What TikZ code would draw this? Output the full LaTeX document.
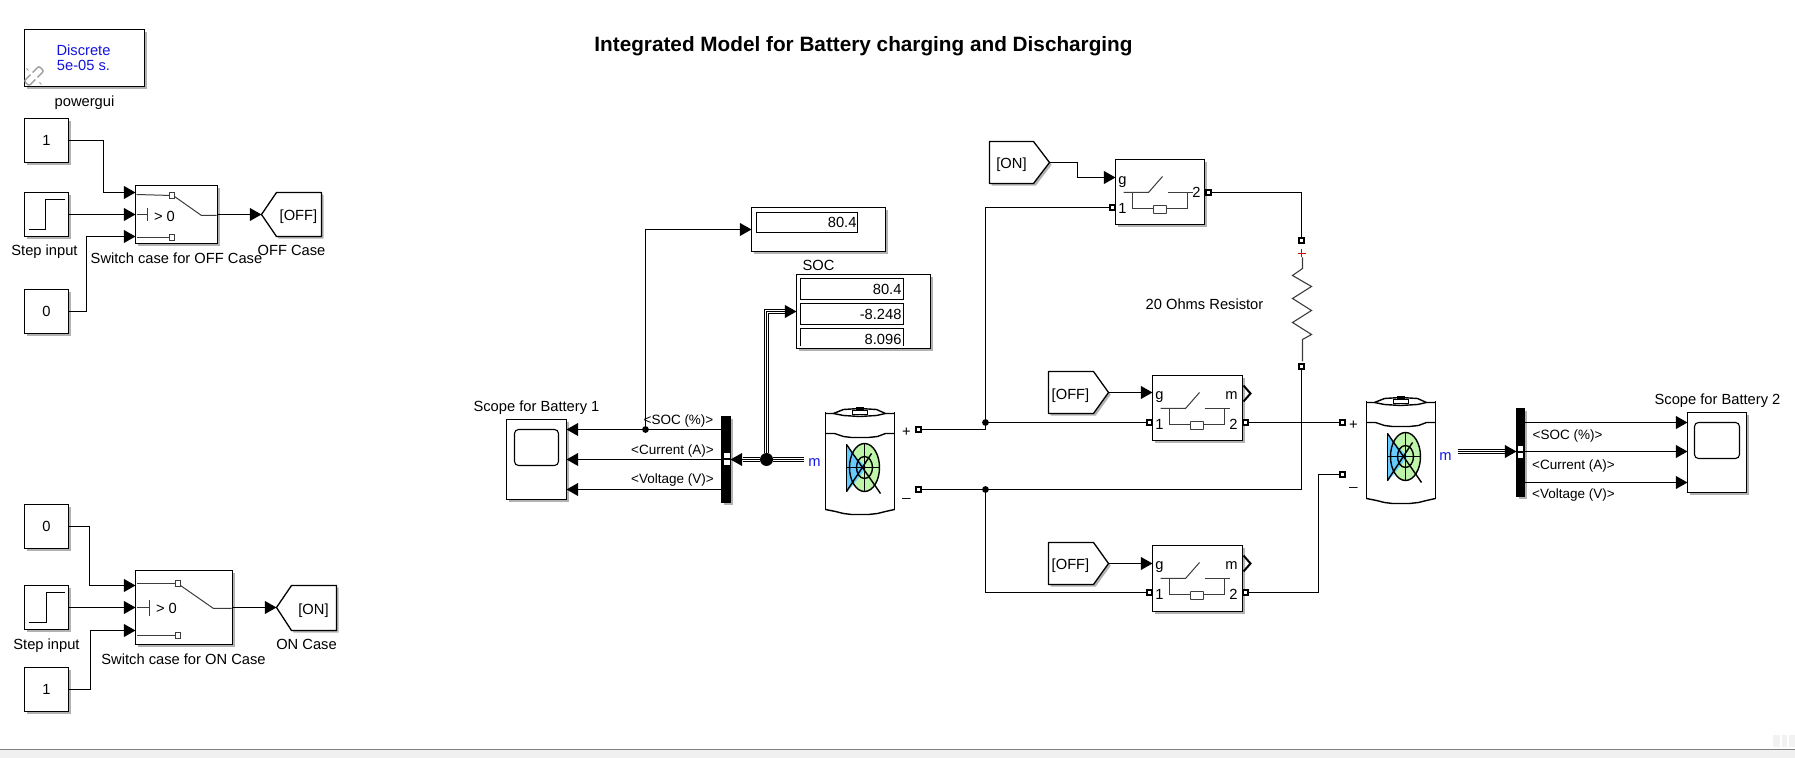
\documentclass[tikz,border=0pt]{standalone}
\usepackage{fontspec}
\setmainfont{Liberation Sans}
\usetikzlibrary{arrows.meta,shadows,calc}
\definecolor{blockblue}{RGB}{20,20,225}
\definecolor{battblue}{RGB}{102,204,255}
\definecolor{battgreen}{RGB}{190,245,170}
\definecolor{inner}{RGB}{60,60,60}
\tikzset{
  lab/.style={inner sep=0pt,outer sep=0pt,font=\fontsize{7.35}{8}\selectfont,text height=6.1pt,text depth=.5pt},
  sigl/.style={lab,font=\fontsize{6.75}{8}\selectfont},
  boxsh/.style={drop shadow={shadow xshift=1.1pt,shadow yshift=-1.1pt,opacity=.3,fill=black}},
  blockbox/.style={draw=black,fill=white,line width=.65pt,inner sep=0pt,outer sep=0pt,font=\fontsize{7.35}{8}\selectfont,boxsh},
  plainbox/.style={draw=black,fill=white,line width=.55pt,inner sep=0pt,outer sep=0pt,font=\fontsize{7.35}{8}\selectfont},
  barbox/.style={draw=black,fill=black,inner sep=0pt,outer sep=0pt,boxsh},
  wire/.style={draw=black,line width=.6pt},
  sig/.style={wire,-{Triangle[length=5.8pt,width=6.4pt]},shorten >=0pt},
  busline/.style={preaction={draw=black,line width=2.3pt},preaction={draw=white,line width=1.35pt},draw=black,line width=.45pt},
  inl/.style={draw=inner,line width=.5pt},
  stepl/.style={draw=black,line width=.45pt},
  dot/.style={circle,fill=black,inner sep=0pt,outer sep=0pt,minimum size=3.4pt},
  bigdot/.style={circle,fill=black,inner sep=0pt,outer sep=0pt,minimum size=6.5pt},
  port/.style={rectangle,draw=black,fill=white,line width=1.05pt,inner sep=0pt,outer sep=0pt,minimum size=2.4pt},
  mini/.style={rectangle,draw=inner,fill=white,line width=.4pt,inner sep=0pt,outer sep=0pt,minimum size=2.6pt},
  gon/.style={draw=black,fill=white,line width=.65pt,line join=round,boxsh},
  batt/.style={draw=black,line width=.7pt},
  linkl/.style={draw=gray!75,line width=.7pt},
}
% name, x0,y0,x1,y1, style, text
\newcommand{\blk}[7]{%
  \pgfmathsetmacro\cxx{(#2+#4)/2}\pgfmathsetmacro\cyy{(#3+#5)/2}%
  \pgfmathsetmacro\ww{(#4-#2)*0.5}\pgfmathsetmacro\hh{(#5-#3)*0.5}%
  \node[#6,minimum width=\ww pt,minimum height=\hh pt] (#1) at (\cxx,\cyy) {#7};}
% breaker symbol with block corner at (x,y)
\newcommand{\brkicon}[2]{%
  \begin{scope}[shift={(#1,#2)}]
    \draw[inl] (8,33) -- (33,33) -- (47,17);
    \draw[inl] (52,33) -- (77,33);
    \draw[inl] (17,33) -- (17,49) -- (38,49);
    \draw[inl] (51,49) -- (72,49) -- (72,33);
    \draw[draw=inner,fill=white,line width=.45pt,rounded corners=.3pt] (38,46) rectangle (51,54);
  \end{scope}}
\newcommand{\chev}[2]{\draw[draw=black,line width=1pt] (#1,#2-8) -- (#1+7,#2) -- (#1,#2+8);}
\newcommand{\batticon}[2]{%
  \begin{scope}[shift={(#1,#2)}]
    \draw[batt] (0,-1) -- (0,97);
    \draw[batt] (69,-1) -- (69,97);
    \draw[batt] (0,0) -- (8,0) -- (18,-4) -- (34,-5) -- (51,-4) -- (60,0) -- (69,0);
    \draw[batt] (8,0) -- (18,2) -- (34,3) -- (51,2) -- (60,0);
    \draw[batt] (27,-3) rectangle (42,1);
    \draw[draw=black,fill=black] (31,-6) rectangle (38,-3);
    \draw[batt] (0,20) -- (9,20) -- (18,23) -- (26,24) -- (43,24) -- (52,23) -- (60,20) -- (69,20);
    \draw[batt] (0,96) -- (10,98) -- (18,100) -- (26,101) -- (43,101) -- (52,100) -- (60,98) -- (69,96);
    \fill[battgreen] (39,54) ellipse [x radius=15,y radius=24];
    \fill[battblue] (21,33) -- (31,44) -- (41,54) -- (31,67) -- (21,79) -- cycle;
    \draw[batt] (39,54) ellipse [x radius=15,y radius=24];
    \draw[batt] (39,54) ellipse [x radius=8,y radius=11];
    \draw[batt] (21,31) -- (21,79);
    \draw[batt] (21,54) -- (54,54);
    \draw[batt] (39,30) -- (39,78);
    \draw[batt] (21,31) -- (55,80);
    \draw[batt] (21,78) -- (46,40);
  \end{scope}}
\begin{document}
\begin{tikzpicture}[x=0.5pt,y=-0.5pt]
\useasboundingbox (0,0) rectangle (1795,758);
% window strip
\fill[gray!12] (0,749) rectangle (1795,758);
\draw[draw=black!50,line width=.5pt] (0,749.5) -- (1795,749.5);
\fill[gray!10] (1773,735) rectangle (1780,747);
\fill[gray!10] (1782,735) rectangle (1787,747);
\fill[gray!10] (1789,735) rectangle (1795,747);
\begin{scope}[shift={(0.5,-0.5)}]
% title
\node[inner sep=0pt,font=\fontsize{10.37}{12}\selectfont\bfseries] (title) at (863,47) {Integrated Model for Battery charging and Discharging};
% powergui
\blk{pg}{24}{30}{144}{87}{blockbox}{}
\node[lab] (pgb) at (83,50) {\textcolor{blockblue}{Discrete}};
\node[lab] (pgc) at (83,65) {\textcolor{blockblue}{5e-05 s.}};
\node[lab] (pgl) at (84,101) {powergui};
\begin{scope}[rotate around={45:(33.5,76.5)}]
  \draw[linkl,rounded corners=1pt] (32,73) -- (23,73) -- (23,80) -- (32,80);
  \draw[linkl,rounded corners=1pt] (35,73) -- (44,73) -- (44,80) -- (35,80);
\end{scope}
\draw[linkl,line width=.5pt] (26,69) -- (28,71) (39,83) -- (41,85);
% OFF case generator
\blk{ca}{24}{119}{68}{163}{blockbox}{1}
\blk{sa}{24}{193}{68}{237}{blockbox}{}
\draw[stepl] (28,230) -- (45,230) -- (45,200) -- (64,200);
\node[lab] (sal) at (44,250) {Step input};
\blk{cb}{24}{290}{68}{334}{blockbox}{0}
\blk{swa}{135}{186}{217}{244}{blockbox}{}
\coordinate (swai) at (135,193);
\coordinate (swak) at (135,237);
\node[mini] (swam) at (171,196) {};
\node[mini] (swan) at (171,238) {};
\draw[inl] (136,195) -- (swam);
\draw[inl] (136,238) -- (swan);
\draw[inl] (174,197) -- (201,216) -- (216,216);
\draw[inl] (136,215) -- (147,215);
\draw[inl] (147,209) -- (147,222);
\node[lab] (swat) at (164,216) {> 0};
\node[lab] (swal) at (176,258) {Switch case for OFF Case};
\draw[gon] (261,215) -- (276,193) -- (321,193) -- (321,237) -- (276,237) -- cycle;
\coordinate (goff) at (261,215);
\node[lab] (gofft) at (298,215) {[OFF]};
\node[lab] (goffl) at (291,250) {OFF Case};
\draw[sig] (ca.east) -- (103,141) -- (103,193) -- (swai);
\draw[sig] (sa.east) -- (swa.west);
\draw[sig] (cb.east) -- (86,312) -- (86,237) -- (swak);
\draw[sig] (swa.east) -- (goff);
% ON case generator
\blk{cc}{24}{505}{68}{549}{blockbox}{0}
\blk{sb}{24}{586}{68}{630}{blockbox}{}
\draw[stepl] (28,623) -- (46,623) -- (46,593) -- (64,593);
\node[lab] (sbl) at (46,644) {Step input};
\blk{cd}{24}{668}{68}{712}{blockbox}{1}
\blk{swb}{135}{571}{232}{645}{blockbox}{}
\coordinate (swbi) at (135,586);
\coordinate (swbk) at (135,631);
\node[mini] (swbm) at (177,584) {};
\node[mini] (swbn) at (177,636) {};
\draw[inl] (136,584) -- (swbm);
\draw[inl] (136,636) -- (swbn);
\draw[inl] (180,586) -- (213,609) -- (231,609);
\draw[inl] (136,608) -- (149,608);
\draw[inl] (149,601) -- (149,617);
\node[lab] (swbt) at (166,608) {> 0};
\node[lab] (swbl) at (183,659) {Switch case for ON Case};
\draw[gon] (276,608) -- (291,586) -- (336,586) -- (336,631) -- (291,631) -- cycle;
\coordinate (gonp) at (276,608);
\node[lab] (gont) at (313,609) {[ON]};
\node[lab] (gonl) at (306,644) {ON Case};
\draw[sig] (cc.east) -- (89,527) -- (89,586) -- (swbi);
\draw[sig] (sb.east) -- (swb.west);
\draw[sig] (cd.east) -- (90,690) -- (90,631) -- (swbk);
\draw[sig] (swb.east) -- (gonp);
% displays
\blk{da}{751}{208}{885}{252}{blockbox}{}
\blk{dai}{756}{213}{857}{233}{plainbox}{}
\node[lab,anchor=east] (dat) at (856,222) {80.4};
\node[lab] (socl) at (818,265) {SOC};
\blk{db}{796}{275}{930}{349}{blockbox}{}
\blk{dbi}{800}{279}{903}{300}{plainbox}{}
\blk{dbj}{800}{304}{903}{325}{plainbox}{}
\draw[draw=black,line width=.55pt] (800,347) -- (800,329) -- (903,329) -- (903,347);
\node[lab,anchor=east] (dbt) at (901,289) {80.4};
\node[lab,anchor=east] (dbu) at (901,314) {-8.248};
\node[lab,anchor=east] (dbv) at (901,339) {8.096};
% scope 1
\node[lab] (scal) at (536,406) {Scope for Battery 1};
\blk{sca}{506}{420}{566}{500}{blockbox}{}
\draw[draw=black,line width=.55pt,rounded corners=2pt] (514,430) rectangle (558,466);
\coordinate (scaa) at (566,430);
\coordinate (scac) at (566,490);
% demux 1
\blk{dma}{721}{417}{730}{503}{barbox}{}
\fill[white] (723,454) rectangle (729,459);
\fill[white] (723,461) rectangle (729,466);
\coordinate (dmaa) at (721,430);
\coordinate (dmac) at (721,490);
\node[sigl] (la) at (678,419) {<SOC (\%)>};
\node[sigl] (lb) at (672,449) {<Current (A)>};
\node[sigl] (lc) at (672,478) {<Voltage (V)>};
\node[dot] (ja) at (645,430) {};
\draw[sig] (dmaa) -- (scaa);
\draw[sig] (dma.west) -- (sca.east);
\draw[sig] (dmac) -- (scac);
\draw[sig] (ja) -- (645,230) -- (751,230);
% batteries
\batticon{825}{414}
\batticon{1366}{403}
\node[lab] (ma) at (814,461) {\textcolor{blockblue}{m}};
\node[lab] (mb) at (1445,455) {\textcolor{blockblue}{m}};
\node[bigdot] (jb) at (766,460) {};
\coordinate (mao) at (803,460);
\coordinate (dmae) at (742,460);
\coordinate (dbe) at (785,312);
\draw[busline] (mao) -- (jb) -- (dmae);
\draw[busline] (jb) -- (766,312) -- (dbe);
\draw[sig] (dmae) -- (dma.east);
\draw[sig] (dbe) -- (db.west);
\node[lab] (pla) at (906,431) {+};
\node[lab] (mia) at (906,491) {\_};
\node[port] (ppa) at (918,430) {};
\node[port] (pma) at (918,490) {};
% breakers
\blk{bra}{1115}{160}{1204}{225}{blockbox}{}
\brkicon{1115}{160}
\blk{brb}{1152}{376}{1242}{441}{blockbox}{}
\brkicon{1152}{376}
\blk{brc}{1152}{546}{1242}{612}{blockbox}{}
\brkicon{1152}{546}
\node[lab] at (1122,179) (bag) {g};
\node[lab] at (1122,208) (ba1) {1};
\node[lab] at (1196,192) (ba2) {2};
\node[lab] at (1159,394) (bbg) {g};
\node[lab] at (1231,394) (bbm) {m};
\node[lab] at (1159,424) (bb1) {1};
\node[lab] at (1233,424) (bb2) {2};
\node[lab] at (1159,564) (bcg) {g};
\node[lab] at (1231,564) (bcm) {m};
\node[lab] at (1159,594) (bc1) {1};
\node[lab] at (1233,594) (bc2) {2};
\chev{1243}{394}
\chev{1243}{564}
\node[port] (pa1) at (1112,208) {};
\node[port] (pa2) at (1208,193) {};
\node[port] (pb1) at (1149,423) {};
\node[port] (pb2) at (1245,423) {};
\node[port] (pc1) at (1149,593) {};
\node[port] (pc2) at (1245,593) {};
% from blocks
\draw[gon] (989,142) -- (1033,142) -- (1049,163) -- (1033,184) -- (989,184) -- cycle;
\coordinate (fon) at (1049,163);
\node[lab] (font) at (1011,163) {[ON]};
\draw[gon] (1048,372) -- (1093,372) -- (1108,393) -- (1093,414) -- (1048,414) -- cycle;
\coordinate (foa) at (1108,393);
\node[lab] (foat) at (1070,394) {[OFF]};
\draw[gon] (1048,543) -- (1093,543) -- (1108,564) -- (1093,585) -- (1048,585) -- cycle;
\coordinate (fob) at (1108,564);
\node[lab] (fobt) at (1070,564) {[OFF]};
\draw[sig] (fon) -- (1077,163) -- (1077,178) -- (1115,178);
\draw[sig] (foa) -- (1152,393);
\draw[sig] (fob) -- (1152,564);
% resistor
\node[port] (ra) at (1301,241) {};
\node[port] (rb) at (1301,367) {};
\node[lab] (rl) at (1204,304) {20 Ohms Resistor};
\draw[draw=red!85!black,line width=.5pt] (1297,254) -- (1305,254) (1301,250) -- (1301,258);
\draw[draw=inner,line width=.55pt] (1302,258) -- (1302,269) -- (1292,276) -- (1311,287) -- (1292,299) -- (1311,311) -- (1292,323) -- (1311,335) -- (1302,340) -- (1302,362);
% battery 2 ports
\node[port] (ppb) at (1342,423) {};
\node[port] (pmb) at (1342,475) {};
\node[lab] (plb) at (1353,424) {+};
\node[lab] (mib) at (1353,480) {\_};
% power wires
\node[dot] (jc) at (985,423) {};
\node[dot] (jd) at (985,490) {};
\draw[wire] (ppa) -- (985,430) -- (jc);
\draw[wire] (jc) -- (985,208) -- (pa1);
\draw[wire] (jc) -- (pb1);
\draw[wire] (pma) -- (jd);
\draw[wire] (jd) -- (1301,490) -- (rb);
\draw[wire] (jd) -- (985,593) -- (pc1);
\draw[wire] (pa2) -- (1301,193) -- (ra);
\draw[wire] (pb2) -- (ppb);
\draw[wire] (pc2) -- (1318,593) -- (1318,475) -- (pmb);
% scope 2 side
\blk{dmb}{1516}{409}{1524}{497}{barbox}{}
\fill[white] (1517.5,447) rectangle (1522.5,452);
\fill[white] (1517.5,454) rectangle (1522.5,459);
\node[lab] (scbl) at (1717,399) {Scope for Battery 2};
\blk{scb}{1687}{413}{1746}{493}{blockbox}{}
\draw[draw=black,line width=.55pt,rounded corners=2pt] (1694,423) rectangle (1739,459);
\coordinate (mbo) at (1457,452);
\coordinate (dmbe) at (1504,452);
\coordinate (dmba) at (1524,423);
\coordinate (dmbb) at (1524,452);
\coordinate (dmbc) at (1524,483);
\coordinate (scba) at (1687,423);
\coordinate (scbb) at (1687,452);
\coordinate (scbc) at (1687,483);
\draw[busline] (mbo) -- (dmbe);
\draw[sig] (dmbe) -- (1516,452);
\draw[sig] (dmba) -- (scba);
\draw[sig] (dmbb) -- (scbb);
\draw[sig] (dmbc) -- (scbc);
\node[sigl] (ld) at (1567,434) {<SOC (\%)>};
\node[sigl] (le) at (1573,464) {<Current (A)>};
\node[sigl] (lf) at (1573,493) {<Voltage (V)>};
\end{scope}
\end{tikzpicture}
\end{document}
